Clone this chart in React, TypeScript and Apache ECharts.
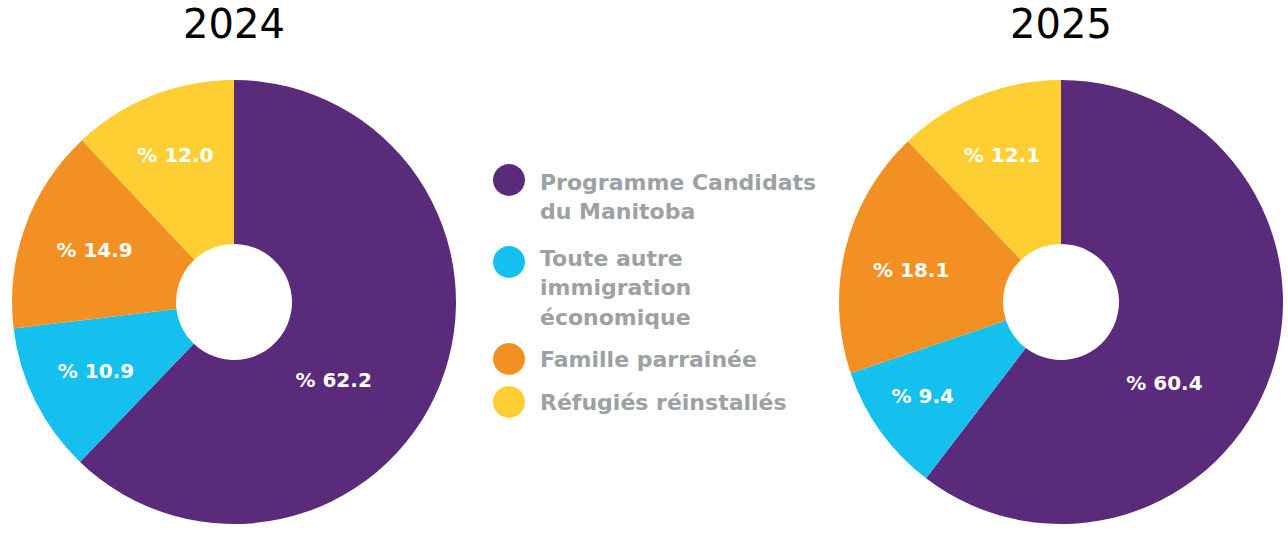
import React, { useEffect, useRef } from "react";
import * as echarts from "echarts";

const categories = [
  "Programme Candidats du Manitoba",
  "Toute autre immigration économique",
  "Famille parrainée",
  "Réfugiés réinstallés",
];
const legendLines = [
  ["Programme Candidats", "du Manitoba"],
  ["Toute autre", "immigration", "économique"],
  ["Famille parrainée"],
  ["Réfugiés réinstallés"],
];
const years = ["2024", "2025"];
const values2024 = [62.2, 10.9, 14.9, 12.0];
const values2025 = [60.4, 9.4, 18.1, 12.1];

const colors = ["#5A2A7B", "#15C0EF", "#F29023", "#FECF33"];
const labelOffsets2024 = [[-33, 25], [-10, 5], [-5, -3], [-6, -14]];
const labelOffsets2025 = [[-32, 35], [-22, 11], [-11, 2], [-6, -14]];

const FONT = "'DejaVu Sans', sans-serif";

export default function App() {
  const ref = useRef<HTMLDivElement>(null);
  useEffect(() => {
    if (!ref.current) return;
    const chart = echarts.init(ref.current, undefined, { renderer: "svg" });

    const makeData = (vals: number[], offs: number[][]) =>
      vals.map((v, i) => ({
        value: v,
        name: categories[i],
        itemStyle: { color: colors[i] },
        label: { offset: offs[i] },
      }));

    const pieBase = {
      type: "pie",
      radius: [58, 222],
      startAngle: 90,
      clockwise: true,
      silent: true,
      avoidLabelOverlap: false,
      itemStyle: { borderWidth: 0 },
      labelLine: { show: false },
      label: {
        show: true,
        position: "inside",
        color: "#ffffff",
        fontFamily: FONT,
        fontWeight: "bold",
        fontSize: 20,
        formatter: (p: any) => "% " + Number(p.value).toFixed(1),
      },
      emphasis: { disabled: true },
    };

    const legendY = [180, 262, 359, 402];
    const lineFirstY = [182, 258, 359, 402];
    const graphics: any[] = [];
    legendLines.forEach((lines, i) => {
      graphics.push({
        type: "circle",
        shape: { cx: 509, cy: legendY[i], r: 16 },
        style: { fill: colors[i] },
        silent: true,
      });
      lines.forEach((ln, j) => {
        graphics.push({
          type: "text",
          x: 540,
          y: lineFirstY[i] + j * 29.5,
          style: {
            text: ln,
            fill: "#9CA1A5",
            font: `bold 22px ${FONT}`,
            textAlign: "left",
            textVerticalAlign: "middle",
          },
          silent: true,
        });
      });
    });
    const titleX = [234, 1061];
    years.forEach((y, i) => {
      graphics.push({
        type: "text",
        x: titleX[i],
        y: 24,
        style: {
          text: y,
          fill: "#000000",
          font: `40px ${FONT}`,
          textAlign: "center",
          textVerticalAlign: "middle",
        },
        silent: true,
      });
    });

    chart.setOption({
      animation: false,
      backgroundColor: "#ffffff",
      series: [
        { ...pieBase, name: years[0], center: [234, 302], data: makeData(values2024, labelOffsets2024) },
        { ...pieBase, name: years[1], center: [1061, 302], data: makeData(values2025, labelOffsets2025) },
      ],
      graphic: graphics,
    });
    return () => chart.dispose();
  }, []);
  return (
    <div
      ref={ref}
      style={{ position: "absolute", left: 0, top: 0, width: 1288, height: 535 }}
    />
  );
}
